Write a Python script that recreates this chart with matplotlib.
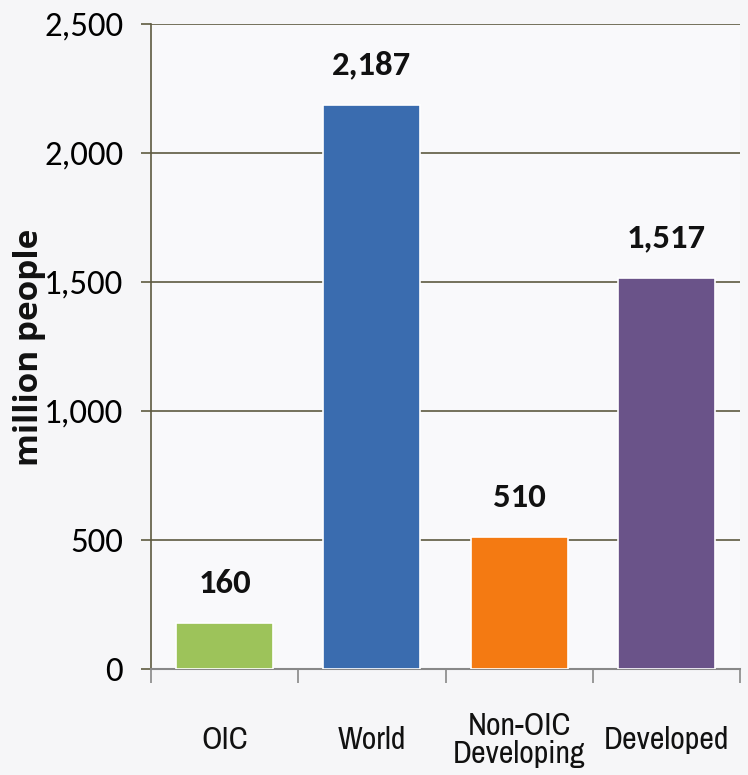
import matplotlib
matplotlib.use("Agg")
import matplotlib.pyplot as plt
from matplotlib.ticker import FuncFormatter, FixedLocator
from matplotlib.transforms import blended_transform_factory
import numpy as np

categories = ["OIC", "World", "Non-OIC\nDeveloping", "Developed"]
bar_values = [177, 2187, 510, 1517]
value_labels = ["160", "2,187", "510", "1,517"]
colors = ["#9dc35a", "#3a6caf", "#f47a12", "#6a5389"]
yticks = [0, 500, 1000, 1500, 2000, 2500]
ylabel = "million people"

num_font = ["Carlito", "Archivo Narrow", "Roboto Condensed", "DejaVu Sans"]
cat_font = ["Liberation Sans Narrow", "Archivo Narrow", "Roboto Condensed", "DejaVu Sans"]

fig = plt.figure(figsize=(7.48, 7.75), dpi=100)
fig.patch.set_facecolor("#f6f6f8")
ax = fig.add_axes([151/748, (775-669)/775, (740-151)/748, (669-24)/775])
ax.set_facecolor("#f9f9fb")

x = np.arange(len(categories))
ax.bar(x, bar_values, width=0.66, color=colors, edgecolor="white", linewidth=1.2, zorder=3)

ax.set_xlim(-0.5, len(categories) - 0.5)
ax.set_ylim(0, 2500)

grid_c = "#5e5a40"
ax.yaxis.set_major_locator(FixedLocator(yticks))
ax.yaxis.set_major_formatter(FuncFormatter(lambda v, p: f"{int(v):,}"))
ax.grid(axis="y", color=grid_c, linewidth=1.2, zorder=1)
ax.tick_params(axis="y", length=7, width=1.2, color=grid_c, pad=13, labelsize=25)
for lab in ax.get_yticklabels():
    lab.set_family(num_font)

ax.set_xticks(np.arange(len(categories) + 1) - 0.5)
ax.set_xticklabels([])
ax.tick_params(axis="x", length=10, width=1.2, color="#888888", direction="out")

for s in ["top", "right"]:
    ax.spines[s].set_visible(False)
ax.spines["left"].set_color(grid_c)
ax.spines["left"].set_linewidth(1.2)
ax.spines["bottom"].set_color("#888888")
ax.spines["bottom"].set_linewidth(1.5)

trans = blended_transform_factory(ax.transData, ax.transAxes)
for xi, cat in zip(x, categories):
    ax.text(xi, -0.110, cat, transform=trans, ha="center", va="center",
            fontsize=23, family=cat_font, color="#111111", linespacing=1.0,
            multialignment="center")

for xi, v, lab in zip(x, bar_values, value_labels):
    ax.annotate(lab, (xi, v), xytext=(0, 18), textcoords="offset points",
                ha="center", va="bottom", fontsize=25, fontweight="bold",
                family=num_font, color="#111111")

fig.text(30/748, 1 - 347/775, ylabel, rotation=90, ha="center", va="center",
         fontsize=24, fontweight="bold", family=["Open Sans", "DejaVu Sans"], color="#111111")

fig.savefig("out.png", dpi=100, facecolor=fig.get_facecolor())
